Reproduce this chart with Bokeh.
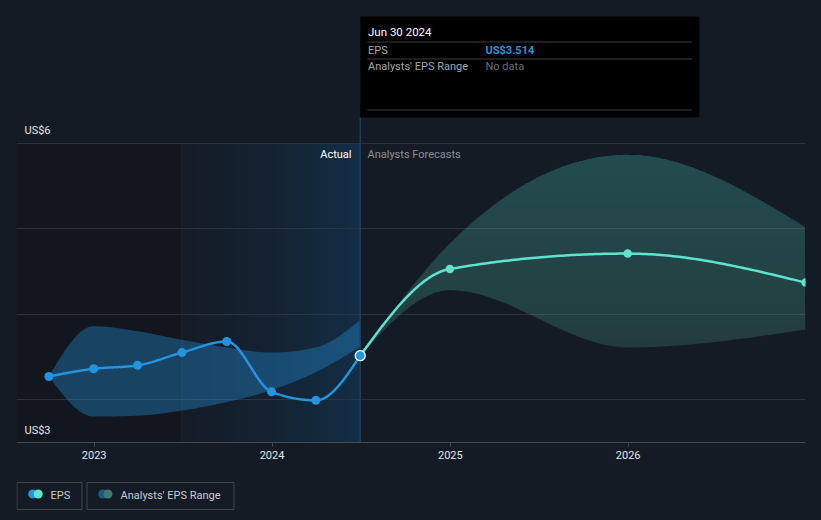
import numpy as np
import pandas as pd
from bokeh.plotting import figure
from bokeh.models import Range1d, FixedTicker, DatetimeTickFormatter
from bokeh.core.properties import value
from bokeh.embed import file_html
from bokeh.resources import INLINE

# ------------------------------------------------------------------ data
actual_dates = ["2022-09-30", "2022-12-31", "2023-03-31", "2023-06-30",
                "2023-09-30", "2023-12-31", "2024-03-31", "2024-06-30"]
actual_eps = [3.27, 3.36, 3.40, 3.55, 3.68, 3.09, 2.99, 3.514]
past_range_low = [3.27, 2.80, 2.81, 2.87, 2.97, 3.11, 3.32, 3.62]
past_range_high = [3.27, 3.86, 3.80, 3.70, 3.61, 3.55, 3.61, 3.93]

forecast_dates = ["2024-06-30", "2024-12-31", "2025-12-31", "2026-12-31"]
forecast_eps = [3.514, 4.53, 4.71, 4.37]
forecast_low = [3.514, 4.28, 3.61, 3.82]
forecast_high = [3.514, 4.83, 5.87, 5.02]

tick_years = [2023, 2024, 2025, 2026]
grid_values = [3, 4, 5, 6]
y_label_text = ["US$6", "US$3"]
actual_start = "2023-06-30"
today = "2024-06-30"

# ------------------------------------------------------------------ style
BG = "#151b24"
BLUE = "#2394df"
TEAL = "#5ee3cf"
FONT = "Roboto"


def ms(d):
    return (pd.Timestamp(d) - pd.Timestamp("1970-01-01")) / pd.Timedelta(milliseconds=1)


def ms_arr(ds):
    return np.array([ms(d) for d in ds], dtype=float)


# pixel (page) -> data helpers for layout-only items
PX_PER_DAY = 0.48723
REF_PX = 93.7  # page x of the 2023 tick
PX_PER_UNIT = 85.333


def X(px):
    return ms("2023-01-01") + (px - REF_PX) / PX_PER_DAY * 86400000.0


def Y(py):
    return 3 + (399 - py) / PX_PER_UNIT


def monotone(xs, ys, n=60):
    """d3 curveMonotoneX rendering of the given points."""
    xs = np.asarray(xs, float)
    ys = np.asarray(ys, float)
    h = np.diff(xs)
    s = np.diff(ys) / h
    m = len(xs)
    t = np.zeros(m)
    sg = lambda v: -1.0 if v < 0 else 1.0
    for i in range(1, m - 1):
        p = (s[i - 1] * h[i] + s[i] * h[i - 1]) / (h[i - 1] + h[i])
        t[i] = (sg(s[i - 1]) + sg(s[i])) * min(abs(s[i - 1]), abs(s[i]), 0.5 * abs(p))
    t[0] = (3 * s[0] - t[1]) / 2
    t[-1] = (3 * s[-1] - t[-2]) / 2
    ox, oy = [], []
    for i in range(m - 1):
        u = np.linspace(0, 1, n, endpoint=(i == m - 2))
        h00 = 2 * u**3 - 3 * u**2 + 1
        h10 = u**3 - 2 * u**2 + u
        h01 = -2 * u**3 + 3 * u**2
        h11 = u**3 - u**2
        ox.append(xs[i] + u * h[i])
        oy.append(h00 * ys[i] + h10 * h[i] * t[i] + h01 * ys[i + 1] + h11 * h[i] * t[i + 1])
    return np.concatenate(ox), np.concatenate(oy)


xa = ms_arr(actual_dates)
xf = ms_arr(forecast_dates)

p = figure(width=821, height=520, x_axis_type="datetime",
           x_range=Range1d(X(16), X(805)), y_range=Range1d(Y(512), Y(8)),
           output_backend="svg", toolbar_location=None,
           min_border_left=16, min_border_right=16, min_border_top=8, min_border_bottom=8,
           background_fill_color=BG, border_fill_color=BG, outline_line_color=None)

p.yaxis.visible = False
p.xgrid.visible = False
p.ygrid.ticker = FixedTicker(ticks=grid_values)
p.ygrid.grid_line_color = "#2d333c"
p.ygrid.grid_line_width = 1

ax = p.xaxis[0]
ax.fixed_location = Y(442)
ax.ticker = FixedTicker(ticks=[ms(f"{yr}-01-01") for yr in tick_years])
ax.formatter = DatetimeTickFormatter(days="%Y", months="%Y", years="%Y")
ax.axis_line_color = "#454a52"
ax.major_tick_line_color = "#454a52"
ax.major_tick_in = 0
ax.major_tick_out = 4
ax.minor_tick_line_color = None
ax.major_label_text_font = FONT
ax.major_label_text_font_size = "11px"
ax.major_label_text_color = "#e6e6e6"
ax.major_label_standoff = 4

top_val = max(grid_values)
base_val = Y(442)

# darker past region (below the grid)
p.quad(left=[p.x_range.start], right=[ms(actual_start)], top=[top_val], bottom=[base_val],
       fill_color="#12161e", line_color=None, level="image")

# "Actual" last-year horizontal gradient as a 1-row RGBA image
ncol = 180
c0 = np.array([20, 28, 39], float)
c1 = np.array([19, 46, 70], float)
grad = np.zeros((1, ncol), dtype=np.uint32)
view = grad.view(dtype=np.uint8).reshape((1, ncol, 4))
for k in range(ncol):
    f = (k / (ncol - 1)) ** 1.35
    c = c0 + (c1 - c0) * f
    view[0, k, 0] = int(round(c[0]))
    view[0, k, 1] = int(round(c[1]))
    view[0, k, 2] = int(round(c[2]))
    view[0, k, 3] = 255
p.image_rgba(image=[grad], x=ms(actual_start), y=base_val,
             dw=ms(today) - ms(actual_start), dh=top_val - base_val, level="image")
p.segment(x0=[ms(actual_start)], y0=[top_val], x1=[ms(actual_start)], y1=[base_val],
          line_color="#1b2633", line_width=1, level="image")

# past analyst range
bx, blo = monotone(xa, past_range_low)
_, bhi = monotone(xa, past_range_high)
p.varea(x=bx, y1=blo, y2=bhi, fill_color=BLUE, fill_alpha=0.36)

# forecast analyst range with vertical gradient (stacked layers)
fx, flo = monotone(xf, forecast_low)
_, fhi = monotone(xf, forecast_high)
p.varea(x=fx, y1=flo, y2=fhi, fill_color="#5fc4b3", fill_alpha=0.195)
for lev in np.linspace(3.7, 5.8, 13):
    y1 = np.maximum(flo, lev)
    y2 = np.maximum(fhi, lev)
    p.varea(x=fx, y1=y1, y2=y2, fill_color="#5fc4b3", fill_alpha=0.0163)

# lines
lx, ly = monotone(xa, actual_eps)
p.line(lx, ly, line_color=BLUE, line_width=2.5)
gx, gy = monotone(xf, forecast_eps)
p.line(gx, gy, line_color=TEAL, line_width=2.5)

p.scatter(xa[:-1], actual_eps[:-1], size=9, fill_color=BLUE, line_color=None)
p.scatter(xf[1:], forecast_eps[1:], size=8.5, fill_color=TEAL, line_color=None)

# hover line + tooltip
p.segment(x0=[ms(today)], y0=[Y(117)], x1=[ms(today)], y1=[base_val],
          line_color="#1f3d5c", line_width=1.5)
p.scatter([xa[-1]], [actual_eps[-1]], size=10, fill_color=BLUE, line_color="#ffffff", line_width=1.3)

p.quad(left=[ms(today)], right=[X(699)], top=[Y(16)], bottom=[Y(117)],
       fill_color="#000000", line_color=None)
p.segment(x0=[X(367)] * 3, x1=[X(691.5)] * 3, y0=[Y(41.5), Y(58.5), Y(109.5)],
          y1=[Y(41.5), Y(58.5), Y(109.5)], line_color="#3d3d3d", line_width=1)

tip_date = pd.Timestamp(today).strftime("%b %d %Y")
p.text(x=[X(367.5)], y=[Y(31)], text=[tip_date], text_font=value(FONT),
       text_font_size="11.5px", text_color="#ffffff", text_baseline="middle", text_align="left")
p.text(x=[X(367.5), X(367.5)], y=[Y(49.5), Y(66)], text=["EPS", "Analysts' EPS Range"],
       text_font=value(FONT), text_font_size="11px", text_color="#a3a6aa",
       text_baseline="middle", text_align="left")
p.text(x=[X(485)], y=[Y(49.5)], text=[f"US${actual_eps[-1]:.3f}"], text_font=value(FONT),
       text_font_size="11px", text_font_style="bold", text_color=BLUE,
       text_baseline="middle", text_align="left")
p.text(x=[X(485)], y=[Y(66)], text=["No data"], text_font=value(FONT),
       text_font_size="11px", text_color="#6b6e72", text_baseline="middle", text_align="left")

# y labels
p.text(x=[X(24), X(24)], y=[Y(130), Y(430)], text=y_label_text, text_font=value(FONT),
       text_font_size="11px", text_color="#e6e6e6", text_baseline="middle", text_align="left")

# section labels
p.text(x=[X(351)], y=[Y(154)], text=["Actual"], text_font=value(FONT), text_font_size="11px",
       text_color="#ffffff", text_baseline="middle", text_align="right")
p.text(x=[X(367)], y=[Y(154)], text=["Analysts Forecasts"], text_font=value(FONT),
       text_font_size="11px", text_color="#8b9097", text_baseline="middle", text_align="left")

# legend (drawn manually: two separate boxes)
p.quad(left=[X(16.5), X(86.5)], right=[X(81.5), X(233.5)], top=[Y(482)] * 2, bottom=[Y(509)] * 2,
       fill_color=None, line_color="#41464e", line_width=1)
p.scatter([X(32.2), X(37.7)], [Y(493.5)] * 2, size=9, fill_color=[BLUE, TEAL], line_color=None)
p.scatter([X(102.2), X(107.5)], [Y(493.5)] * 2, size=9, fill_color=["#1d5985", "#3b7a74"],
          line_color=None)
p.text(x=[X(50), X(120)], y=[Y(494.5)] * 2, text=["EPS", "Analysts' EPS Range"],
       text_font=value(FONT), text_font_size="11px", text_color="#c8ccd1",
       text_baseline="middle", text_align="left")

html = file_html(p, INLINE, title="EPS")
html = html.replace("</head>", "<style>html,body{background:#151b24;}</style></head>", 1)
open("out.html", "w").write(html)
